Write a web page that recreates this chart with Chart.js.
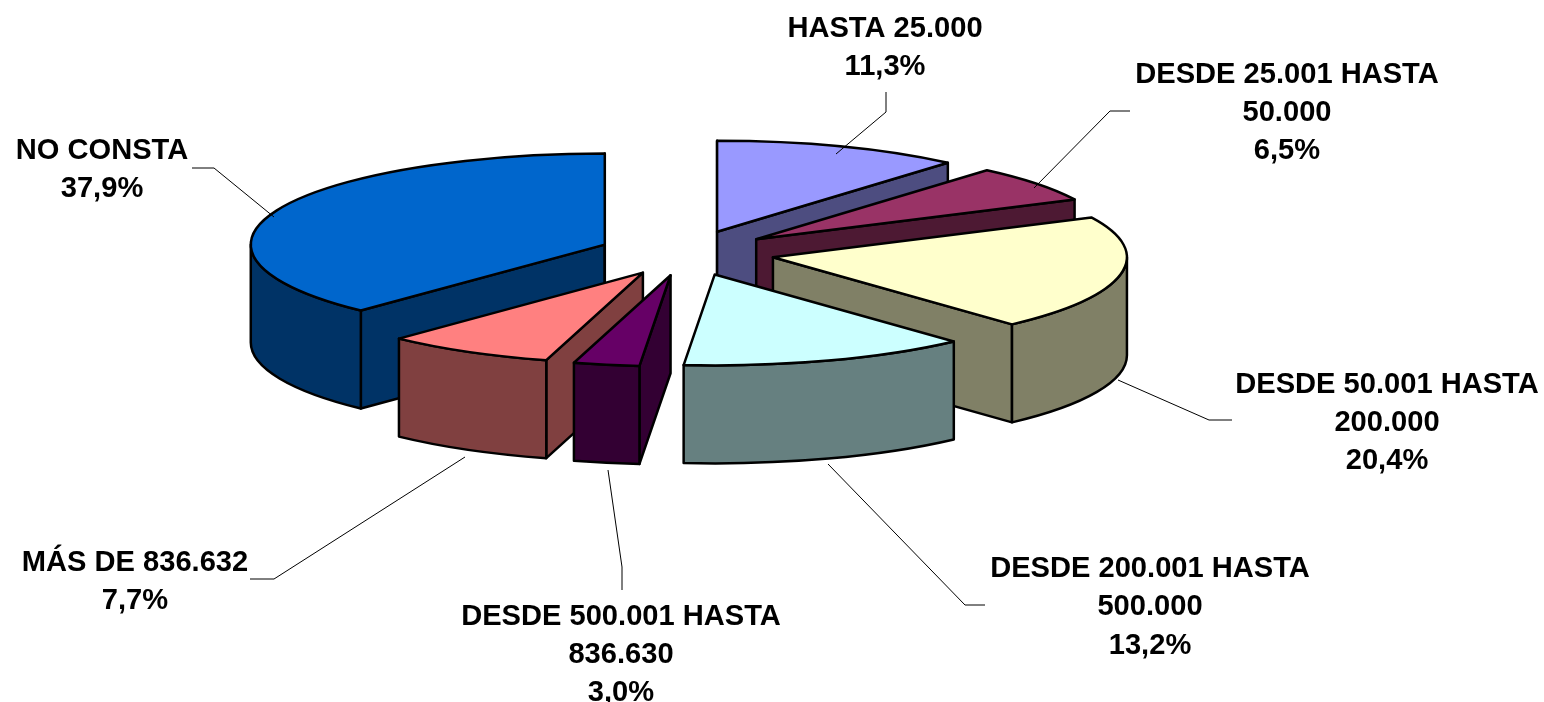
<!DOCTYPE html>
<html><head><meta charset="utf-8">
<style>html,body{margin:0;padding:0;background:#fff;overflow:hidden}#w{width:1544px;height:702px;position:relative}</style>
<script src="https://cdn.jsdelivr.net/npm/chart.js@4/dist/chart.umd.min.js"></script>
</head><body><div id="w"><canvas id="c"></canvas></div>
<script>
const categories = ['HASTA 25.000','DESDE 25.001 HASTA 50.000','DESDE 50.001 HASTA 200.000','DESDE 200.001 HASTA 500.000','DESDE 500.001 HASTA 836.630','MÁS DE 836.632','NO CONSTA'];
const values = [11.3, 6.5, 20.4, 13.2, 3.0, 7.7, 37.9];
const valueLabels = ['11,3%','6,5%','20,4%','13,2%','3,0%','7,7%','37,9%'];
const topColors = ['#9999FF','#993366','#FFFFCC','#CCFFFF','#660066','#FF8080','#0066CC'];
const sideColors = ['#4D4D80','#4D1933','#808066','#668080','#330033','#804040','#003366'];
const labelLines = [['HASTA 25.000'],['DESDE 25.001 HASTA','50.000'],['DESDE 50.001 HASTA','200.000'],['DESDE 200.001 HASTA','500.000'],['DESDE 500.001 HASTA','836.630'],['MÁS DE 836.632'],['NO CONSTA']];
const labelCenters = [[885,29],[1287,74.5],[1387,384.5],[1150,569],[621,616.5],[135,563],[102,151]];
const leaders = [
 [[886,92],[886,112],[836,154]],
 [[1130,111],[1110,111],[1034,188]],
 [[1232,420],[1209,420],[1118,380]],
 [[985,605],[965,605],[828,464]],
 [[622,590],[622,567],[608,470]],
 [[250,579],[274,579],[465,457]],
 [[192,168],[214,168],[274,217]]
];
const paintOrder = [6,0,1,2,5,4,3];
const SQUISH = 91/354, DEPTH = 98, EXPLODE = 88, LINE_H = 38.4;

const pie3d = {
  id:'pie3d',
  beforeDatasetsDraw(chart){
    const ctx = chart.ctx, arcs = chart.getDatasetMeta(0).data;
    ctx.save();
    ctx.lineJoin='round'; ctx.lineWidth=2.5; ctx.strokeStyle='#000';
    for(const i of paintOrder){
      const el = arcs[i];
      const {x,y,startAngle:a0,endAngle:a1,outerRadius:R} = el.getProps(['x','y','startAngle','endAngle','outerRadius'],true);
      const mid=(a0+a1)/2, dx=Math.cos(mid)*EXPLODE, dy=Math.sin(mid)*EXPLODE;
      const ax=x+dx, ay=y+dy*SQUISH, Ry=R*SQUISH;
      const pt=(a)=>[ax+R*Math.cos(a), ay+Ry*Math.sin(a)];
      const face=(a)=>{const p=pt(a);ctx.beginPath();ctx.moveTo(ax,ay);ctx.lineTo(p[0],p[1]);ctx.lineTo(p[0],p[1]+DEPTH);ctx.lineTo(ax,ay+DEPTH);ctx.closePath();ctx.fillStyle=sideColors[i];ctx.fill();ctx.stroke();};
      // radial faces that look towards the viewer
      if(Math.cos(a0) <= 1e-6) face(a0);
      if(Math.cos(a1) >= -1e-6) face(a1);
      // outer wall: the part of the rim on the front half
      const s=Math.max(a0,0), e=Math.min(a1,Math.PI);
      if(e>s){
        ctx.beginPath();
        ctx.ellipse(ax,ay,R,Ry,0,s,e);
        ctx.ellipse(ax,ay+DEPTH,R,Ry,0,e,s,true);
        ctx.closePath();ctx.fillStyle=sideColors[i];ctx.fill();ctx.stroke();
      }
      // top face: the library's own arc element, flattened and pushed out
      ctx.save();
      ctx.translate(dx,y+dy*SQUISH);ctx.scale(1,SQUISH);ctx.translate(0,-y);
      el.draw(ctx);
      ctx.restore();
      ctx.beginPath();ctx.moveTo(ax,ay);ctx.ellipse(ax,ay,R,Ry,0,a0,a1);ctx.closePath();ctx.stroke();
    }
    // leaders
    ctx.lineWidth=1;ctx.strokeStyle='#000';ctx.lineJoin='miter';
    leaders.forEach(l=>{ctx.beginPath();l.forEach((p,k)=>k?ctx.lineTo(p[0],p[1]):ctx.moveTo(p[0],p[1]));ctx.stroke();});
    // labels
    ctx.fillStyle='#000';ctx.font='bold 29.1px "Liberation Sans", Arial, sans-serif';ctx.textAlign='center';ctx.textBaseline='middle';
    categories.forEach((c,i)=>{
      const lines=[...labelLines[i],valueLabels[i]];
      lines.forEach((t,k)=>ctx.fillText(t,labelCenters[i][0],labelCenters[i][1]+k*LINE_H));
    });
    ctx.restore();
    return false;
  }
};

new Chart(document.getElementById('c'),{
  type:'pie',
  data:{labels:categories,datasets:[{data:values,backgroundColor:topColors,borderWidth:0,radius:354,clip:false}]},
  options:{responsive:true,maintainAspectRatio:false,animation:false,
    layout:{padding:{left:0,top:0,right:171,bottom:196}},
    plugins:{legend:{display:false},tooltip:{enabled:false},title:{display:false}}},
  plugins:[pie3d]
});
</script></body></html>
